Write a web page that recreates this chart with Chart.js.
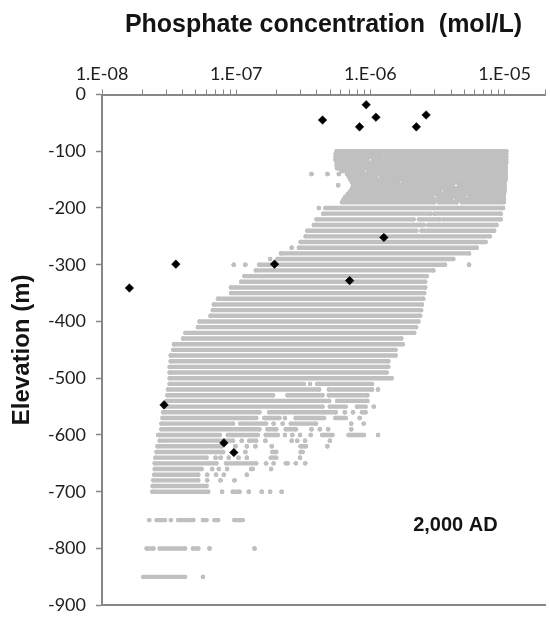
<!DOCTYPE html>
<html>
<head>
<meta charset="utf-8">
<script src="https://cdn.jsdelivr.net/npm/chart.js@4.4.1/dist/chart.umd.min.js"></script>
<style>
  html, body { margin: 0; padding: 0; background: #fff; }
  #wrap { width: 550px; height: 626px; }
</style>
</head>
<body>
<div id="wrap"><canvas id="phosChart" width="550" height="626"></canvas></div>
<script>
// Modelled phosphate band: one entry per elevation row, each row a list of
// [from, to] concentration runs (mol/L). A run with from == to is a lone point.
const bandElevations = [
  -100, -105, -110, -115, -120, -125, -130, -135, -140, -145, -150, -155, -160, -165, -170, -175, -180, -185, -190,
  -200, -210, -220, -230, -240, -250, -260, -270, -280, -290, -300,
  -310, -320, -330, -340, -350, -360, -370, -380, -390, -400,
  -410, -420, -430, -440, -450, -460, -470, -480, -490, -500,
  -510, -520, -530, -540, -550, -560, -570, -580, -590, -600,
  -610, -620, -630, -640, -650, -660, -670, -680, -690, -700,
  -750, -800, -850
];
const bandRuns = [
  [[5.6e-7, 1.03e-5]],
  [[5.5e-7, 1.2e-6], [1.3e-6, 1.03e-5]],
  [[5.5e-7, 1.03e-5]],
  [[5.5e-7, 9.5e-7], [1.05e-6, 3.0e-6], [3.2e-6, 1.03e-5]],
  [[5.6e-7, 1.03e-5]],
  [[5.6e-7, 1.4e-6], [1.5e-6, 5.4e-6], [5.8e-6, 1.02e-5]],
  [[5.65e-7, 1.02e-5]],
  [[6.1e-7, 8.8e-7], [9.6e-7, 2.4e-6], [2.6e-6, 1.02e-5]],
  [[3.64e-7, 3.64e-7], [4.79e-7, 4.79e-7], [5.81e-7, 5.81e-7], [6.7e-7, 1.02e-5]],
  [[6.9e-7, 1.1e-6], [1.2e-6, 4.6e-6], [5.0e-6, 1.02e-5]],
  [[7.08e-7, 1.02e-5]],
  [[7.3e-7, 1.6e-6], [1.75e-6, 6.6e-6], [7.1e-6, 1.0e-5]],
  [[5.75e-7, 5.75e-7], [7.46e-7, 4.1e-6], [4.6e-6, 1.0e-5]],
  [[7.3e-7, 2.7e-6], [2.9e-6, 1.0e-5]],
  [[7.1e-7, 3.3e-6], [3.6e-6, 6.2e-6], [6.6e-6, 1.0e-5]],
  [[6.8e-7, 1.3e-6], [1.4e-6, 9.9e-6]],
  [[6.5e-7, 2.9e-6], [3.2e-6, 5.0e-6], [5.5e-6, 9.87e-6]],
  [[6.3e-7, 4.0e-6], [4.4e-6, 9.87e-6]],
  [[6.15e-7, 3.0e-6], [3.25e-6, 4.4e-6], [4.8e-6, 9.87e-6]],
  [[4.13e-7, 4.13e-7], [4.62e-7, 9.75e-6]],
  [[4.45e-7, 2.8e-6], [3.0e-6, 9.37e-6]],
  [[3.97e-7, 2.1e-6], [2.3e-6, 3.3e-6], [3.5e-6, 9.37e-6]],
  [[3.79e-7, 2.5e-6], [2.7e-6, 8.71e-6]],
  [[3.39e-7, 2.2e-6], [2.4e-6, 8.36e-6]],
  [[3.29e-7, 7.77e-6]],
  [[3.02e-7, 7.22e-6]],
  [[2.59e-7, 2.59e-7], [2.93e-7, 6.19e-6]],
  [[2.15e-7, 5.43e-6]],
  [[1.79e-7, 1.79e-7], [2.03e-7, 4.15e-6]],
  [[9.58e-8, 9.58e-8], [1.17e-7, 1.17e-7], [1.48e-7, 3.6e-6], [5.43e-6, 5.43e-6]],
  [[1.4e-7, 2.95e-6]],
  [[1.15e-7, 2.64e-6]],
  [[1.09e-7, 2.56e-6]],
  [[9.15e-8, 2.56e-6]],
  [[9.15e-8, 2.52e-6]],
  [[7.3e-8, 2.48e-6]],
  [[6.81e-8, 2.42e-6]],
  [[6.7e-8, 2.39e-6]],
  [[6.43e-8, 2.35e-6]],
  [[5.33e-8, 2.28e-6]],
  [[5.19e-8, 2.19e-6]],
  [[4.18e-8, 2.12e-6]],
  [[4.02e-8, 1.70e-6]],
  [[3.44e-8, 1.74e-6]],
  [[3.39e-8, 1.54e-6]],
  [[3.25e-8, 1.54e-6]],
  [[3.25e-8, 1.36e-6]],
  [[3.19e-8, 1.36e-6]],
  [[3.19e-8, 1.32e-6]],
  [[3.19e-8, 1.44e-6]],
  [[3.19e-8, 3.2e-7], [3.55e-7, 3.55e-7], [4.0e-7, 1.03e-6]],
  [[3.1e-8, 4.15e-7], [4.9e-7, 1.03e-6], [1.14e-6, 1.14e-6]],
  [[3.07e-8, 1.88e-7], [2.41e-7, 4.4e-7], [4.9e-7, 9.5e-7]],
  [[3.02e-8, 4.93e-7], [5.65e-7, 9.5e-7]],
  [[2.9e-8, 4.4e-7], [4.98e-7, 6.55e-7], [7.94e-7, 9.21e-7], [1.06e-6, 1.06e-6]],
  [[2.86e-8, 1.49e-7], [1.76e-7, 5.52e-7], [6.44e-7, 6.44e-7], [7.42e-7, 7.42e-7], [8.65e-7, 9.2e-7]],
  [[2.82e-8, 1.41e-7], [1.62e-7, 2.1e-7], [2.31e-7, 2.31e-7], [2.77e-7, 4.52e-7], [5.48e-7, 6.55e-7], [8.32e-7, 8.32e-7]],
  [[2.77e-8, 9.48e-8], [1.07e-7, 1.67e-7], [1.9e-7, 1.9e-7], [2.22e-7, 2.22e-7], [2.55e-7, 3.93e-7], [7.2e-7, 7.2e-7], [8.92e-7, 8.92e-7]],
  [[2.77e-8, 1.49e-7], [1.71e-7, 1.99e-7], [2.34e-7, 2.79e-7], [3.64e-7, 3.64e-7], [4.2e-7, 4.2e-7], [4.84e-7, 4.84e-7], [7.2e-7, 7.2e-7]],
  [[2.62e-8, 7.55e-8], [8.65e-8, 1.45e-7], [1.66e-7, 2.04e-7], [2.31e-7, 2.31e-7], [2.62e-7, 2.62e-7], [2.99e-7, 2.99e-7], [3.59e-7, 3.59e-7], [4.37e-7, 5.22e-7], [6.88e-7, 8.95e-7], [1.14e-6, 1.14e-6]],
  [[2.69e-8, 9.48e-8], [1.1e-7, 1.1e-7], [1.25e-7, 1.41e-7], [1.65e-7, 1.65e-7], [2.59e-7, 2.59e-7], [2.85e-7, 2.85e-7], [3.26e-7, 3.26e-7], [4.99e-7, 4.99e-7]],
  [[2.59e-8, 7.77e-8], [9.87e-8, 9.87e-8], [1.2e-7, 1.2e-7], [1.39e-7, 1.39e-7], [1.84e-7, 1.84e-7], [3.02e-7, 3.31e-7], [4.78e-7, 4.78e-7]],
  [[2.55e-8, 8.0e-8], [1.17e-7, 1.17e-7], [1.86e-7, 1.99e-7], [3.02e-7, 3.13e-7]],
  [[2.5e-8, 6.01e-8], [7.01e-8, 7.01e-8], [7.64e-8, 7.64e-8], [8.8e-8, 8.8e-8], [1.04e-7, 1.04e-7], [1.2e-7, 1.2e-7], [1.81e-7, 1.99e-7], [2.99e-7, 2.99e-7]],
  [[2.47e-8, 7.13e-8], [8.4e-8, 1.41e-7], [1.67e-7, 1.67e-7], [1.9e-7, 1.9e-7], [2.34e-7, 2.42e-7], [2.78e-7, 2.78e-7], [3.27e-7, 3.27e-7]],
  [[2.47e-8, 5.52e-8], [6.62e-8, 6.62e-8], [7.42e-8, 7.42e-8], [8.55e-8, 8.55e-8], [1.29e-7, 1.33e-7], [1.82e-7, 1.82e-7]],
  [[2.45e-8, 5.22e-8], [6.08e-8, 6.08e-8], [7.08e-8, 7.08e-8], [8.08e-8, 8.08e-8], [1.2e-7, 1.2e-7]],
  [[2.41e-8, 5.22e-8], [6.08e-8, 6.08e-8], [7.64e-8, 7.64e-8], [9.71e-8, 9.71e-8]],
  [[2.38e-8, 6.01e-8]],
  [[2.37e-8, 6.19e-8], [7.85e-8, 7.85e-8], [9.42e-8, 1.06e-7], [1.24e-7, 1.24e-7], [1.55e-7, 1.55e-7], [1.79e-7, 1.79e-7], [2.18e-7, 2.18e-7]],
  [[2.25e-8, 2.25e-8], [2.55e-8, 2.95e-8], [3.26e-8, 3.26e-8], [3.69e-8, 4.8e-8], [5.65e-8, 6.01e-8], [6.88e-8, 7.34e-8], [9.68e-8, 1.12e-7]],
  [[2.15e-8, 2.42e-8], [2.69e-8, 4.16e-8], [4.76e-8, 5.22e-8], [6.33e-8, 6.33e-8], [1.37e-7, 1.37e-7]],
  [[2.03e-8, 4.16e-8], [5.65e-8, 5.65e-8]]
];

// Measured samples (black diamonds)
const sampleConc = [9.3e-7, 4.4e-7, 1.1e-6, 8.3e-7, 2.6e-6, 2.2e-6, 1.26e-6, 7.0e-7, 1.6e-8, 3.55e-8, 1.93e-7, 2.9e-8, 8.1e-8, 9.6e-8];
const sampleElev = [-18, -45, -40, -57, -36, -57, -252, -328, -341, -299, -299, -547, -614, -631];

// Axes
const concMajorTicks = [1e-8, 1e-7, 1e-6, 1e-5];
const concMajorLabels = ['1.E-08', '1.E-07', '1.E-06', '1.E-05'];
const concMinorSteps = [2, 3, 4, 5, 6, 7, 8, 9];
const concMax = 2e-5;
const elevTicks = [0, -100, -200, -300, -400, -500, -600, -700, -800, -900];

const eraText = '2,000 AD';
const eraAt = { x: 4.3e-6, y: -760 };

const AXIS_GREY = '#878787';
const BAND_GREY = '#c0c0c0';

// flatten the runs into one line dataset, breaking between runs with a null y
const bandPoints = [];
bandElevations.forEach((elev, i) => {
  bandRuns[i].forEach(run => {
    bandPoints.push({ x: run[0], y: elev });
    bandPoints.push({ x: run[1], y: elev });
    bandPoints.push({ x: run[1], y: null });
  });
});

const samplePoints = sampleConc.map((c, i) => ({ x: c, y: sampleElev[i] }));

const eraLabelPlugin = {
  id: 'eraLabel',
  afterDatasetsDraw(chart) {
    const { ctx, scales } = chart;
    ctx.save();
    ctx.font = 'bold 20px "Liberation Sans", Arial, sans-serif';
    ctx.fillStyle = '#141414';
    ctx.textAlign = 'center';
    ctx.textBaseline = 'middle';
    ctx.fillText(eraText, scales.x.getPixelForValue(eraAt.x), scales.y.getPixelForValue(eraAt.y));
    ctx.restore();
  }
};

function sameValue(a, b) {
  return Math.abs(Math.log10(a) - Math.log10(b)) < 1e-6;
}

Chart.defaults.font.family = 'Lato, sans-serif';
Chart.defaults.color = '#1e1e1e';

const ctx = document.getElementById('phosChart').getContext('2d');
new Chart(ctx, {
  type: 'scatter',
  data: {
    datasets: [
      {
        label: 'Measured',
        data: samplePoints,
        order: 0,
        showLine: false,
        pointStyle: 'rectRot',
        pointRadius: 4.3,
        pointBackgroundColor: '#000',
        pointBorderColor: '#000',
        pointBorderWidth: 0.5
      },
      {
        label: 'Model',
        data: bandPoints,
        order: 1,
        showLine: true,
        spanGaps: false,
        borderColor: BAND_GREY,
        borderWidth: 4.4,
        borderCapStyle: 'round',
        tension: 0,
        pointRadius: 2.2,
        pointBackgroundColor: BAND_GREY,
        pointBorderWidth: 0
      }
    ]
  },
  options: {
    responsive: false,
    animation: false,
    devicePixelRatio: 1,
    layout: { padding: { top: 0, left: 0, right: 2, bottom: 8 } },
    plugins: {
      legend: { display: false },
      tooltip: { enabled: false }
    },
    scales: {
      x: {
        type: 'logarithmic',
        position: 'top',
        min: concMajorTicks[0],
        max: concMax,
        afterFit: (scale) => { scale.height = 94.5; },
        afterBuildTicks: (scale) => {
          const ticks = [];
          concMajorTicks.forEach(v => {
            ticks.push({ value: v, major: true });
            concMinorSteps.forEach(m => {
              if (v * m <= concMax * 1.0001) ticks.push({ value: v * m });
            });
          });
          scale.ticks = ticks;
        },
        title: {
          display: true,
          text: 'Phosphate concentration  (mol/L)',
          font: { family: '"Liberation Sans", Arial, sans-serif', size: 25, weight: 'bold' },
          color: '#141414',
          padding: { top: 10, bottom: 0 }
        },
        ticks: {
          autoSkip: false,
          maxRotation: 0,
          padding: 5,
          font: { size: 18 },
          callback: (value) => {
            const idx = concMajorTicks.findIndex(t => sameValue(t, value));
            return idx >= 0 ? concMajorLabels[idx] : '';
          }
        },
        grid: { drawOnChartArea: false, tickLength: 5, color: AXIS_GREY, tickWidth: 1 },
        border: { color: AXIS_GREY, width: 2 }
      },
      xBottom: {
        type: 'linear',
        position: 'bottom',
        afterFit: (scale) => { scale.height = 0; },
        ticks: { display: false },
        grid: { display: false, drawTicks: false },
        border: { color: AXIS_GREY, width: 2 }
      },
      y: {
        type: 'linear',
        min: -900,
        max: 0,
        afterFit: (scale) => { scale.width = 102; },
        afterBuildTicks: (scale) => {
          scale.ticks = elevTicks.map(v => ({ value: v }));
        },
        title: {
          display: true,
          text: 'Elevation (m)',
          font: { family: '"Liberation Sans", Arial, sans-serif', size: 24, weight: 'bold' },
          color: '#141414',
          padding: { top: 8, bottom: 0 }
        },
        ticks: { padding: 10, font: { size: 18 } },
        grid: { drawOnChartArea: false, tickLength: 6, color: AXIS_GREY, tickWidth: 1.5 },
        border: { color: AXIS_GREY, width: 2 }
      }
    }
  },
  plugins: [eraLabelPlugin]
});
</script>
</body>
</html>
